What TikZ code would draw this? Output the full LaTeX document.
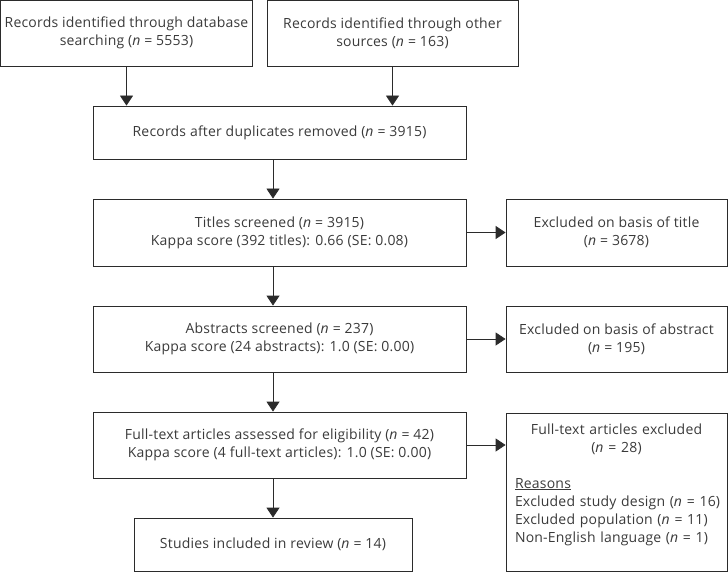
\documentclass[tikz,border=0pt]{standalone}
\usepackage{fontspec}
\setmainfont{Open Sans}[LetterSpace=1.5]
\usetikzlibrary{arrows.meta, positioning}
\definecolor{BoxLine}{HTML}{2B2B2B}
\definecolor{InkGrey}{HTML}{3A3A3A}
\newcommand{\nval}[1]{(\textit{n} = #1)}
\tikzset{
    stage/.style={rectangle, draw=BoxLine, line width=0.8pt, text=InkGrey,
                  align=center, inner xsep=2pt, inner ysep=4pt,
                  font=\fontsize{14}{18}\selectfont},
    flow/.style={draw=BoxLine, line width=0.8pt,
                 -{Triangle[length=10pt, width=13pt]}}
}

\begin{document}
\begin{tikzpicture}[x=1pt, y=-1pt]
    \useasboundingbox (0,0) rectangle (728,572);

    % identification
    \node[stage, minimum width=252pt, minimum height=66pt] (dbsearch) at (126.5,33)
        {Records identified through database\\ searching \nval{5553}};
    \node[stage, minimum width=251pt, minimum height=66pt] (othersrc) at (392.5,33)
        {Records identified through other\\ sources \nval{163}};
    \node[stage, minimum width=373pt, minimum height=53pt] (dedup) at (279.5,132.5)
        {Records after duplicates removed \nval{3915}};

    % screening
    \node[stage, minimum width=373pt, minimum height=67pt] (titles) at (279.5,232.5)
        {Titles screened \nval{3915}\\ Kappa score (392 titles): 0.66 (SE: 0.08)};
    \node[stage, minimum width=221pt, minimum height=67pt] (extitles) at (616.5,232.5)
        {Excluded on basis of title\\ \nval{3678}};
    \node[stage, minimum width=373pt, minimum height=66pt] (abstracts) at (279.5,339)
        {Abstracts screened \nval{237}\\ Kappa score (24 abstracts): 1.0 (SE: 0.00)};
    \node[stage, minimum width=221pt, minimum height=66pt] (exabstracts) at (616.5,339)
        {Excluded on basis of abstract\\ \nval{195}};

    % eligibility and inclusion
    \node[stage, minimum width=373pt, minimum height=66pt] (fulltext) at (279.5,445)
        {Full-text articles assessed for eligibility \nval{42}\\
         Kappa score (4 full-text articles): 1.0 (SE: 0.00)};
    \node[stage, minimum width=221pt, minimum height=158pt, text width=209pt,
          inner xsep=6pt, align=left] (exfulltext) at (616.5,492) {
        {\centering Full-text articles excluded\\ \nval{28}\par}
        \vspace{18pt}
        \hspace*{3pt}\underline{Reasons}\\
        \hspace*{3pt}Excluded study design \nval{16}\\
        \hspace*{3pt}Excluded population \nval{11}\\
        \hspace*{3pt}Non-English language \nval{1}\par
        \vspace{15pt}
    };
    \node[stage, minimum width=278pt, minimum height=53pt] (included) at (273,544.5)
        {Studies included in review \nval{14}};

    \draw[flow] (dbsearch.south) -- (dbsearch.south |- dedup.north);
    \draw[flow] (othersrc.south) -- (othersrc.south |- dedup.north);
    \draw[flow] (dedup.south -| included) -- (titles.north -| included);
    \draw[flow] (titles.south -| included) -- (abstracts.north -| included);
    \draw[flow] (abstracts.south -| included) -- (fulltext.north -| included);
    \draw[flow] (fulltext.south -| included) -- (included.north);
    \draw[flow] (titles.east) -- (extitles.west);
    \draw[flow] (abstracts.east) -- (exabstracts.west);
    \draw[flow] (fulltext.east) -- (fulltext.east -| exfulltext.west);
\end{tikzpicture}
\end{document}
